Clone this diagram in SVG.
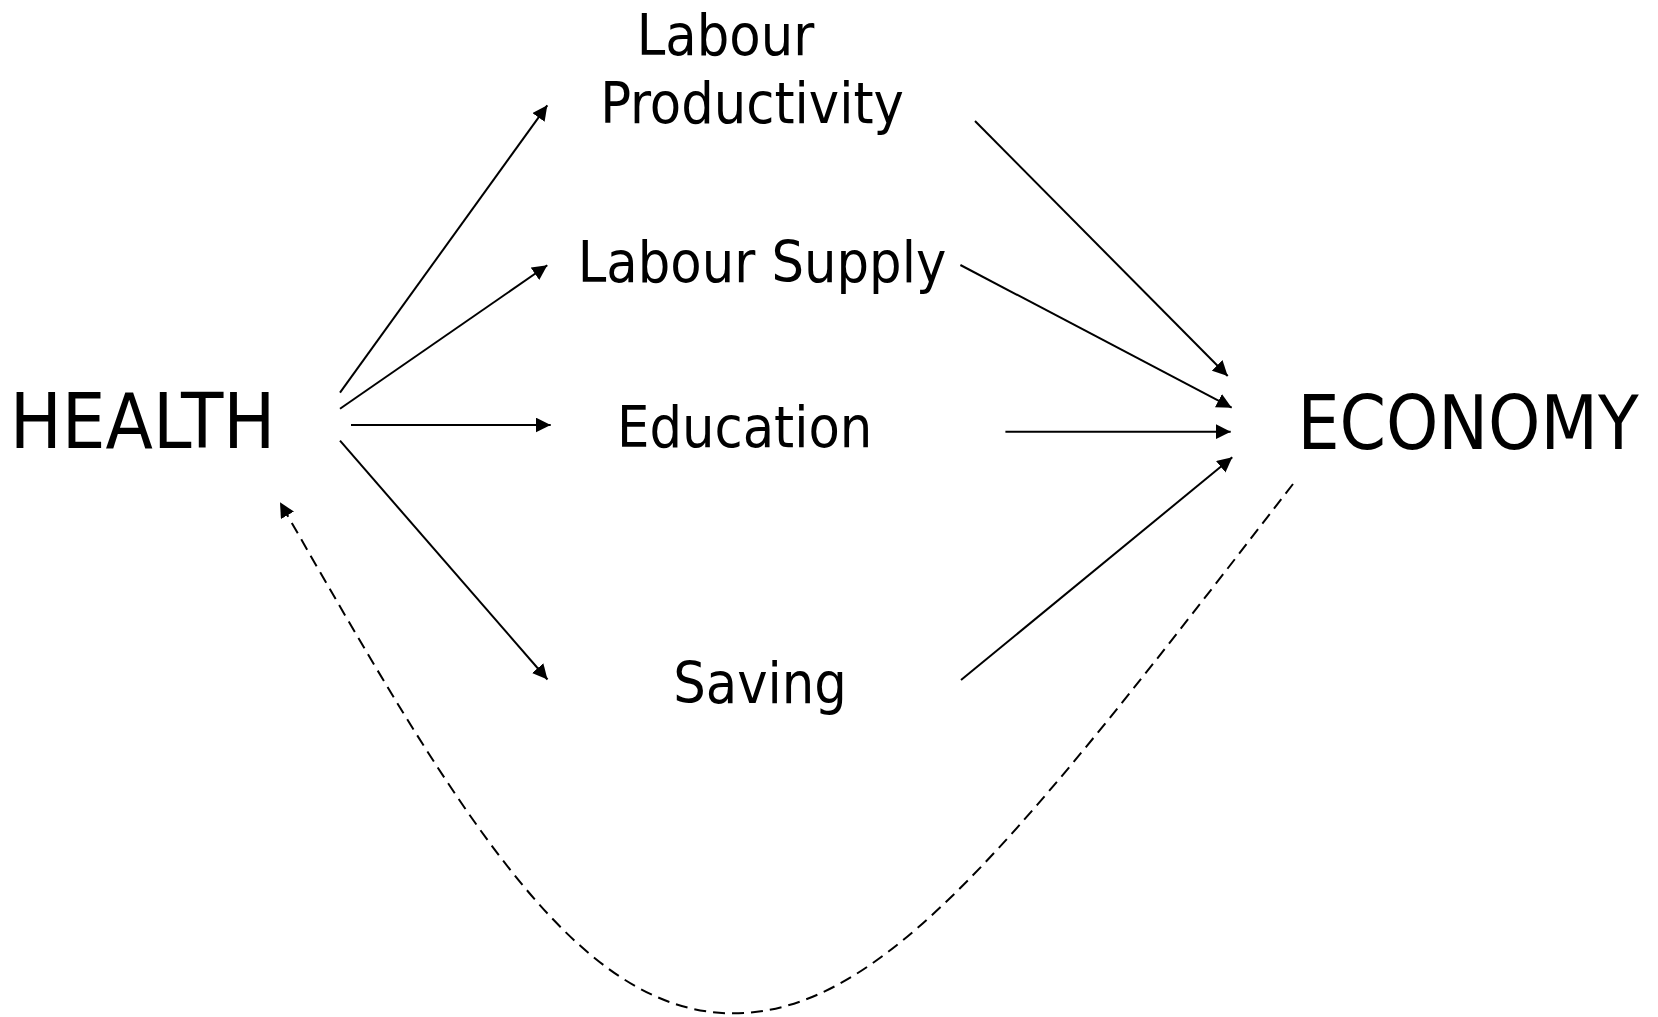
<svg xmlns="http://www.w3.org/2000/svg" width="1658" height="1017" viewBox="0 0 1658 1017">
<style>
  text { font-family: "DejaVu Sans Condensed", "DejaVu Sans", sans-serif; font-stretch: condensed; fill: #000; text-anchor: middle; }
  .big { font-size: 74px; }
  .mid { font-size: 57px; }
  .conn line, .conn path { stroke: #000; stroke-width: 2; fill: none; marker-end: url(#ah); }
  .conn .dash { stroke-dasharray: 12 7; }
</style>
<defs>
  <marker id="ah" viewBox="0 0 15 15" refX="15" refY="7.5" markerWidth="15" markerHeight="15" markerUnits="userSpaceOnUse" orient="auto">
    <path d="M0,0 L15,7.5 L0,15 Z" fill="#000"/>
  </marker>
</defs>
<rect width="1658" height="1017" fill="#fff"/>
<g id="health"><text class="big" x="142.5" y="447.5" style="font-size:77px">HEALTH</text></g>
<g id="economy"><text class="big" x="1468" y="448.5">ECONOMY</text></g>
<g id="labour-productivity"><text class="mid" x="725.5" y="55">Labour</text><text class="mid" x="752" y="123.3">Productivity</text></g>
<g id="labour-supply"><text class="mid" x="762" y="281.7">Labour Supply</text></g>
<g id="education"><text class="mid" x="744.7" y="446.7">Education</text></g>
<g id="saving"><text class="mid" x="760" y="702.5">Saving</text></g>
<g id="connectors" class="conn">
  <line x1="340" y1="392.7" x2="547.3" y2="105.3"/>
  <line x1="340" y1="408.7" x2="547.3" y2="265.3"/>
  <line x1="351" y1="425" x2="550.7" y2="425"/>
  <line x1="340" y1="440.7" x2="547.5" y2="679.5"/>
  <line x1="975" y1="121" x2="1227.7" y2="376"/>
  <line x1="960.4" y1="265" x2="1231.7" y2="407.7"/>
  <line x1="1005.4" y1="431.7" x2="1230.7" y2="431.7"/>
  <line x1="961" y1="680" x2="1232.3" y2="457.3"/>
  <path class="dash" d="M1293,484 C1018,840 883,1013.3 733,1013.3 C573,1013.3 454,806.1 280,502.3"/>
</g>
</svg>
